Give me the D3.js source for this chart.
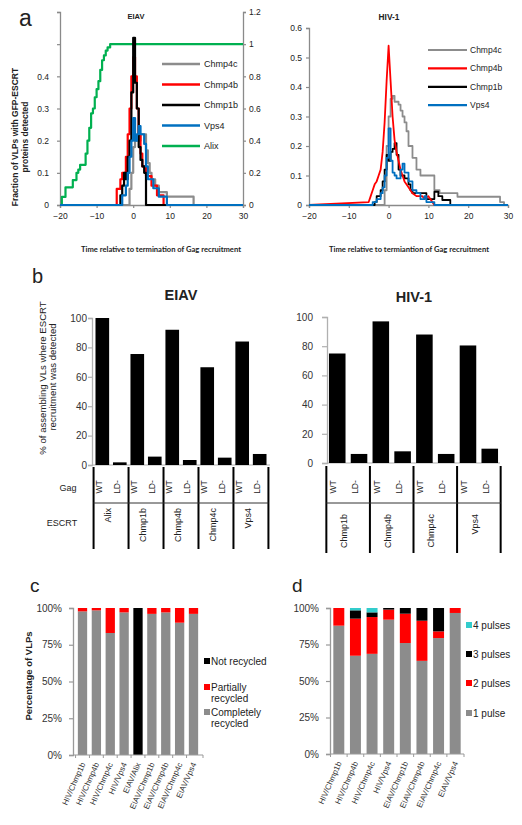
<!DOCTYPE html>
<html><head><meta charset="utf-8">
<script src="https://cdn.jsdelivr.net/npm/d3@7"></script>
<style>body{margin:0;background:#fff}svg text{font-family:"Liberation Sans",Arial,sans-serif}</style>
</head><body><svg id="c" width="522" height="825"></svg>
<script>
// ---------- DATA ----------
const timeTicks = [-20,-10,0,10,20,30];
const fracTicks = [0,0.1,0.2,0.3,0.4,0.5,0.6];
const alixTicks = [0,0.2,0.4,0.6,0.8,1,1.2];
// EIAV time courses [time, fraction]
const eiavChmp4c = [[-20,0],[-1,0.05],[-0.5,0.1],[0,0.18],[0.5,0.2],[1,0.2],[2,0.22],[3.5,0.17],[4,0.13],[4.5,0.1],[5,0.08],[6,0.06],[7,0.04],[9.2,0.026],[16.5,0],[30,0]];
const eiavChmp4b = [[-20,0],[-4.5,0.05],[-3.5,0.08],[-3,0.1],[-2,0.15],[-1.5,0.22],[-1,0.3],[-0.5,0.4],[0,0.46],[0.5,0.4],[1,0.3],[1.5,0.22],[2,0.16],[2.5,0.12],[3.5,0.09],[5,0.06],[6.5,0.03],[8.3,0],[30,0]];
const eiavChmp1b = [[-20,0],[-3.5,0.03],[-3,0.06],[-2.5,0.1],[-2,0.08],[-1.5,0.15],[-1,0.2],[-0.5,0.35],[0,0.52],[0.5,0.38],[1,0.3],[1.5,0.18],[2,0.14],[2.5,0.12],[3,0.1],[3.5,0],[30,0]];
const eiavVps4 = [[-20,0],[-3,0.03],[-2,0.06],[-1.5,0.1],[-1,0.15],[-0.5,0.2],[0,0.27],[0.5,0.2],[1,0.22],[1.5,0.245],[2,0.22],[3,0.19],[3.5,0.12],[4,0.08],[5.5,0.052],[7,0.026],[9.2,0],[30,0]];
const eiavAlix = [[-20,0],[-19.5,0.05],[-18.5,0.11],[-16.5,0.155],[-15.5,0.2],[-15,0.22],[-14.5,0.25],[-13,0.32],[-12.5,0.4],[-12,0.48],[-11.5,0.57],[-11,0.6],[-10.5,0.67],[-10,0.72],[-9.5,0.77],[-9,0.84],[-8.5,0.9],[-8,0.93],[-7.5,0.96],[-7,0.98],[-6.3,1],[30,1]];
// HIV-1 time courses
const hivChmp4c = [[-20,0],[-1,0.05],[-0.5,0.2],[0,0.3],[0.5,0.36],[1,0.37],[1.5,0.35],[2.5,0.34],[3,0.32],[3.5,0.3],[4,0.28],[4.5,0.25],[5,0.2],[6,0.16],[7,0.12],[8,0.1],[11.5,0.05],[12.8,0.04],[17.3,0.028],[28,0.01],[29,0],[30,0]];
const hivChmp4b = [[-20,0],[-5,0.01],[-4.5,0.03],[-4,0.05],[-3.5,0.07],[-3,0.08],[-2.5,0.1],[-2,0.12],[-1.5,0.18],[-1,0.28],[-0.5,0.42],[0,0.54],[0.5,0.42],[1,0.3],[1.5,0.22],[2,0.18],[2.5,0.15],[3,0.12],[3.5,0.1],[4,0.08],[5,0.06],[6,0.04],[7,0.03],[8.5,0.03],[9,0.02],[10,0.03],[11,0.01],[11.5,0],[30,0]];
const hivChmp1b = [[-20,0],[-3.5,0.01],[-3,0.03],[-2,0.05],[-1.5,0.08],[-1,0.12],[-0.5,0.17],[0,0.15],[0.5,0.18],[1,0.19],[1.5,0.21],[2,0.17],[2.5,0.12],[3,0.1],[4,0.09],[5,0.07],[5.5,0.05],[6,0.04],[9.5,0.02],[11.5,0.045],[12.5,0.03],[13.5,0.017],[15.5,0],[30,0]];
const hivVps4 = [[-20,0],[-4,0.01],[-3,0.02],[-2,0.04],[-1.5,0.06],[-1,0.1],[-0.5,0.16],[0,0.26],[0.5,0.15],[1,0.11],[1.5,0.1],[2,0.09],[3,0.12],[3.5,0.14],[4,0.11],[5,0.08],[6,0.05],[7,0.04],[8,0.02],[9,0.03],[9.5,0.01],[11.5,0],[30,0]];
// Panel b
const eiavGroups = ["Alix","Chmp1b","Chmp4b","Chmp4c","Vps4"];
const eiavWT = [100,75.5,92,66.5,84];
const eiavLD = [1.8,5.7,3.4,5,7.5];
const hivGroups = ["Chmp1b","Chmp4b","Chmp4c","Vps4"];
const hivWT = [75,97,88,80.5];
const hivLD = [6.2,8,6.2,9.8];
const gagLabels = ["WT","LD-"];
const pctTicks = [0,20,40,60,80,100];
// Panel c
const cCats = ["HIV/Chmp1b","HIV/Chmp4b","HIV/Chmp4c","HIV/Vps4","EIAV/Alix","EIAV/Chmp1b","EIAV/Chmp4b","EIAV/Chmp4c","EIAV/Vps4"];
const cCompletely = [97.7,98.4,83,97,0,96,97,90,96];
const cPartially = [2.3,1.6,17,3,0,4,3,10,4];
const cNot = [0,0,0,0,100,0,0,0,0];
// Panel d
const dCats = ["HIV/Chmp1b","HIV/Chmp4b","HIV/Chmp4c","HIV/Vps4","EIAV/Chmp1b","EIAV/Chmp4b","EIAV/Chmp4c","EIAV/Vps4"];
const d1 = [87.9,67.3,68.6,92,76,63.8,79.4,96.6];
const d2 = [12.1,25.4,25.2,6.9,20.1,27.5,4.6,3.4];
const d3v = [0,5.7,3.2,1.1,3.9,8.7,16,0];
const d4 = [0,1.6,3,0,0,0,0,0];
const stackTicks = [0,25,50,75,100];

// ---------- DRAW ----------
const svg = d3.select("#c");
const AX = "#8a8a8a", TXT = "#222";
const GRAY = "#8c8c8c", RED = "#ff0000", BLUE = "#0070c0", GREEN = "#00b050", CYAN = "#33cccc";

function styleAxis(g, color, fs){
  g.select(".domain").attr("stroke", color).attr("stroke-width", 1.3);
  g.selectAll(".tick line").attr("stroke", color).attr("stroke-width", 1.2);
  g.selectAll(".tick text").attr("fill", TXT).style("font-size", fs + "px").style("font-family", '"Liberation Sans",Arial,sans-serif');
}
function txt(x, y, s, o = {}){
  const t = svg.append("text").attr("x", x).attr("y", y).text(s)
    .style("font-size", (o.fs || 9) + "px").attr("fill", o.fill || TXT)
    .attr("text-anchor", o.anchor || "start");
  if (o.bold) t.style("font-weight", "bold");
  if (o.family) t.style("font-family", o.family);
  if (o.rot !== undefined) t.attr("transform", `rotate(${o.rot},${x},${y})`);
  return t;
}

// ===== Panel a =====
txt(19, 26, "a", {fs: 23});
// EIAV
const xE = d3.scaleLinear().domain([-20,30]).range([60,243]);
const yE = d3.scaleLinear().domain([0,0.6]).range([205,12]);
const yE2 = d3.scaleLinear().domain([0,1.2]).range([205,12]);
let g = svg.append("g").attr("transform","translate(60,0)")
  .call(d3.axisLeft(yE).tickValues(fracTicks).tickSize(3).tickPadding(8).tickFormat(d => d <= 0.4 ? d3.format("")(+d.toFixed(1)) : ""));
styleAxis(g, AX, 8.5);
g = svg.append("g").attr("transform","translate(243,0)")
  .call(d3.axisRight(yE2).tickValues(alixTicks).tickSize(3).tickPadding(3).tickFormat(d => d3.format("")(+d.toFixed(1))));
styleAxis(g, AX, 8.5);
g = svg.append("g").attr("transform","translate(0,205)")
  .call(d3.axisBottom(xE).tickValues(timeTicks).tickSize(3).tickPadding(5));
styleAxis(g, AX, 8.5);

function drawLine(xs, ys, data, color, w, curve){
  svg.append("path").datum(data)
    .attr("d", d3.line().x(d => xs(d[0])).y(d => ys(d[1])).curve(curve || d3.curveStepAfter))
    .attr("fill","none").attr("stroke", color).attr("stroke-width", w).attr("stroke-linejoin","round");
}
drawLine(xE, yE2, eiavAlix, GREEN, 2.2);
drawLine(xE, yE, eiavChmp4c, GRAY, 2.2);
drawLine(xE, yE, eiavChmp4b, RED, 2.2);
drawLine(xE, yE, eiavChmp1b, "#000", 2.2);
drawLine(xE, yE, eiavVps4, BLUE, 2.2);

const legE = [["Chmp4c",GRAY],["Chmp4b",RED],["Chmp1b","#000"],["Vps4",BLUE],["Alix",GREEN]];
legE.forEach((d,i) => {
  const y = 64 + i*20.5;
  svg.append("line").attr("x1",162).attr("x2",200).attr("y1",y).attr("y2",y).attr("stroke",d[1]).attr("stroke-width",2.6);
  txt(204, y + 3.2, d[0], {fs: 9});
});
txt(136, 19, "EIAV", {fs: 7.5, bold: true, anchor: "middle"});
txt(18, 137, "Fraction of VLPs with GFP-ESCRT", {fs: 8.5, bold: true, anchor: "middle", rot: -90});
txt(27.5, 137, "proteins detected", {fs: 8.5, bold: true, anchor: "middle", rot: -90});
txt(161, 252, "Time relative to termination of Gag recruitment", {fs: 7.6, bold: true, anchor: "middle", family: "Lato, 'Open Sans', sans-serif"});

// HIV-1
const xH = d3.scaleLinear().domain([-20,30]).range([309,508]);
const yH = d3.scaleLinear().domain([0,0.6]).range([205,28]);
g = svg.append("g").attr("transform","translate(309,0)")
  .call(d3.axisLeft(yH).tickValues(fracTicks).tickSize(3).tickPadding(4).tickFormat(d => d3.format("")(+d.toFixed(1))));
styleAxis(g, AX, 8.5);
g = svg.append("g").attr("transform","translate(0,205)")
  .call(d3.axisBottom(xH).tickValues(timeTicks).tickSize(3).tickPadding(5));
styleAxis(g, AX, 8.5);
drawLine(xH, yH, hivChmp4c, GRAY, 1.8);
drawLine(xH, yH, hivChmp1b, "#000", 1.8);
drawLine(xH, yH, hivChmp4b, RED, 1.8, d3.curveLinear);
drawLine(xH, yH, hivVps4, BLUE, 1.8);
const legH = [["Chmp4c",GRAY],["Chmp4b",RED],["Chmp1b","#000"],["Vps4",BLUE]];
legH.forEach((d,i) => {
  const y = 50 + i*18.4;
  svg.append("line").attr("x1",428).attr("x2",467).attr("y1",y).attr("y2",y).attr("stroke",d[1]).attr("stroke-width",2.2);
  txt(470, y + 3, d[0], {fs: 8.5});
});
txt(389, 20, "HIV-1", {fs: 8.3, bold: true, anchor: "middle"});
txt(409, 252, "Time relative to termiantion of Gag recruitment", {fs: 7.6, bold: true, anchor: "middle", family: "Lato, 'Open Sans', sans-serif"});

// ===== Panel b =====
txt(32, 283, "b", {fs: 20});
txt(181, 300, "EIAV", {fs: 14.5, bold: true, anchor: "middle"});
txt(414, 302, "HIV-1", {fs: 14.5, bold: true, anchor: "middle"});
txt(45.5, 378, "% of assembling VLs where ESCRT", {fs: 9.6, anchor: "middle", rot: -90});
txt(55.5, 377, "recruitment was detected", {fs: 9.6, anchor: "middle", rot: -90});

function barPanel(groups, wt, ld, x0, x1, yTop, yBot, po, pi, axisPad, tickSz, shift, tblTop, tblBot, escY){
  const keys = [];
  const vals = [];
  groups.forEach((gname,i) => { keys.push(gname+"|WT"); vals.push(wt[i]); keys.push(gname+"|LD-"); vals.push(ld[i]); });
  const xb = d3.scaleBand().domain(keys).range([x0, x1]).paddingInner(pi).paddingOuter(po);
  const yb = d3.scaleLinear().domain([0,100]).range([yBot, yTop]);
  let ga = svg.append("g").attr("transform",`translate(${x0},0)`)
    .call(d3.axisLeft(yb).tickValues(pctTicks).tickSize(tickSz).tickPadding(axisPad));
  styleAxis(ga, "#b0b0b0", 10);
  ga.selectAll(".tick text").attr("fill","#333");
  svg.append("line").attr("x1",x0).attr("x2",x1).attr("y1",yBot).attr("y2",yBot).attr("stroke","#b0b0b0").attr("stroke-width",1.2);
  svg.selectAll(null).data(keys).enter().append("rect")
    .attr("x", k => xb(k)).attr("width", xb.bandwidth())
    .attr("y", (k,i) => yb(vals[i])).attr("height", (k,i) => yBot - yb(vals[i]))
    .attr("fill","#000");
  // table
  const gap = xb.step() - xb.bandwidth();
  const bounds = groups.map(gname => xb(gname+"|WT") - gap/2);
  bounds.push(xb(groups[groups.length-1]+"|LD-") + xb.bandwidth() + gap/2);
  bounds.forEach(bx => svg.append("line").attr("x1",bx).attr("x2",bx).attr("y1",tblTop).attr("y2",tblBot).attr("stroke","#000").attr("stroke-width",2));
  svg.append("line").attr("x1",bounds[0]).attr("x2",bounds[bounds.length-1]).attr("y1",503).attr("y2",503).attr("stroke","#333").attr("stroke-width",1);
  keys.forEach((k,i) => {
    const cx = xb(k) + xb.bandwidth()/2 + shift + 3;
    txt(cx, 487, gagLabels[i % 2], {fs: 8.5, anchor: "middle", rot: -90});
  });
  groups.forEach((gname,i) => {
    const cx = (bounds[i] + bounds[i+1]) / 2 + shift + 3;
    txt(cx, escY, gname, {fs: 9, anchor: "end", rot: -90});
  });
}
barPanel(eiavGroups, eiavWT, eiavLD, 92, 270, 318, 465, 0.2, 0.22, 1, 4, -3, 467, 549, 508);
barPanel(hivGroups, hivWT, hivLD, 327, 500, 317, 463, 0.09, 0.24, 9, 5, -4, 466, 553, 514);
txt(68, 491, "Gag", {fs: 9, anchor: "middle"});
txt(62, 526, "ESCRT", {fs: 9, anchor: "middle"});

// ===== Panels c & d =====
txt(30, 592, "c", {fs: 19});
txt(292, 592, "d", {fs: 19});
txt(31.5, 676, "Percentage of VLPs", {fs: 9.5, bold: true, anchor: "middle", rot: -90});

function stackPanel(cats, layers, colors, x0, x1, yTop, yBot, po, pi){
  const xs = d3.scaleBand().domain(cats).range([x0, x1]).paddingInner(pi).paddingOuter(po);
  const ys = d3.scaleLinear().domain([0,100]).range([yBot, yTop]);
  const rows = cats.map((c,i) => { const o = {cat: c}; layers.forEach((L,j) => o["k"+j] = L[i]); return o; });
  const stack = d3.stack().keys(layers.map((L,j) => "k"+j))(rows);
  stack.forEach((s,j) => {
    svg.selectAll(null).data(s).enter().append("rect")
      .attr("x", d => xs(d.data.cat)).attr("width", xs.bandwidth())
      .attr("y", d => ys(d[1])).attr("height", d => ys(d[0]) - ys(d[1]))
      .attr("fill", colors[j]);
  });
  let ga = svg.append("g").attr("transform",`translate(${x0},0)`)
    .call(d3.axisLeft(ys).tickValues(stackTicks).tickSize(4).tickPadding(7).tickFormat(d => d + "%"));
  styleAxis(ga, "#999", 10);
  ga.selectAll(".tick text").attr("fill","#333");
  svg.append("line").attr("x1",x0).attr("x2",x1).attr("y1",yBot).attr("y2",yBot).attr("stroke","#999").attr("stroke-width",1.2);
  const bnds = cats.map(c => xs(c) - (xs.step()-xs.bandwidth())/2).concat([x1]);
  bnds.forEach(b => svg.append("line").attr("x1",b).attr("x2",b).attr("y1",yBot).attr("y2",yBot+3).attr("stroke","#999"));
  cats.forEach(c => {
    const cx = xs(c) + xs.bandwidth()/2 + 3;
    txt(cx, yBot + 9, c, {fs: 8, anchor: "end", rot: -66, fill: "#333"});
  });
}
stackPanel(cCats, [cCompletely, cPartially, cNot], [GRAY, RED, "#000"], 73, 203, 608, 755, 0.35, 0.33);
stackPanel(dCats, [d1, d2, d3v, d4], [GRAY, RED, "#000", CYAN], 330, 464, 608, 754, 0.2, 0.34);

// legend c
const legC = [[["Not recycled"], "#000", 661], [["Partially","recycled"], RED, 687], [["Completely","recycled"], GRAY, 712]];
legC.forEach(d => {
  svg.append("rect").attr("x",204).attr("y",d[2]-3).attr("width",6).attr("height",6).attr("fill",d[1]);
  d[0].forEach((s,i) => txt(211, d[2] + 3.5 + i*11.5, s, {fs: 10}));
});
// legend d
const legD = [["4 pulses", CYAN, 625], ["3 pulses", "#000", 654], ["2 pulses", RED, 683], ["1 pulse", GRAY, 713]];
legD.forEach(d => {
  svg.append("rect").attr("x",466).attr("y",d[2]-3).attr("width",6).attr("height",6).attr("fill",d[1]);
  txt(473, d[2] + 3.5, d[0], {fs: 10});
});
</script></body></html>
